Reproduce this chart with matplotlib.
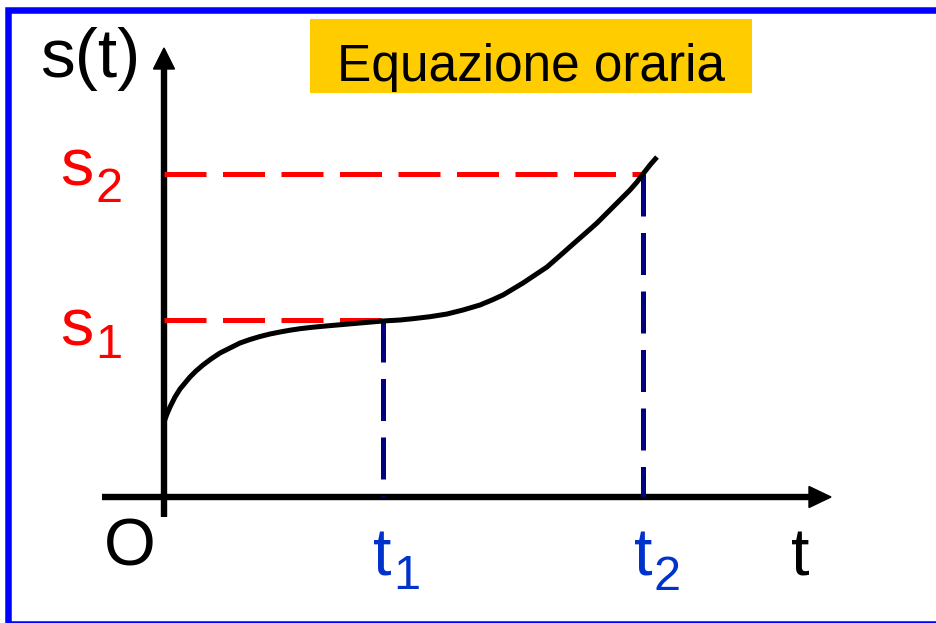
import numpy as np
import matplotlib.pyplot as plt
from matplotlib.patches import Polygon, Rectangle

plt.rcParams['font.family'] = ['Liberation Sans', 'DejaVu Sans']

# curve s(t) (units: px from the origin O)
t_curve = [0, 3, 6, 11, 16, 21, 26, 32, 39, 47, 56, 66, 76, 86, 96, 106, 116, 126,
           136, 149, 163, 179, 196, 219, 236, 249, 266, 283, 299, 316, 328, 339, 349,
           359, 371, 383, 391, 399, 408, 416, 424, 433, 441, 449, 458, 466, 473, 479,
           486, 493]
s_curve = [75, 83, 90, 100, 108, 114, 120, 126, 132, 138, 144, 149, 154, 157.5, 160.5,
           163, 165, 166.8, 168.3, 169.8, 171.1, 172.5, 174, 176, 177, 178.3, 180.3, 183,
           187, 192, 197, 202, 208, 214, 222, 230, 237, 244, 252, 259, 266, 274, 282,
           290, 299, 307, 315, 323, 332, 340]

# marked instants and positions
t_marks = [219, 479]
s_marks = [177, 323]
title = 'Equazione oraria'

RED = '#FF0000'
NAVY = '#000080'
TBLUE = '#0033CC'
GOLD = '#FFCC00'

fig = plt.figure(figsize=(9.37, 6.23), dpi=100)
ax = fig.add_axes([0, 0, 1, 1])
ax.set_xlim(-164, 773)
ax.set_ylim(-126, 497)
ax.axis('off')

# frame of the slide
ax.add_patch(Rectangle((-156, -127), 1000, 614.5, fill=False, edgecolor='#0000FF',
                       linewidth=4.7, clip_on=True))

# title box
ax.add_patch(Rectangle((146, 404), 442, 74, facecolor=GOLD, edgecolor='none'))
ax.text(367, 416, title, fontsize=37, ha='center', va='baseline', color='black')

# axes with arrow heads
ax.plot([-62, 645], [0, 0], color='black', lw=4.6, solid_capstyle='butt')
ax.plot([0, 0], [-20, 428], color='black', lw=4.6, solid_capstyle='butt')
ax.add_patch(Polygon([[645, -10.5], [667, 0], [645, 10.5]], closed=True, color='black'))
ax.add_patch(Polygon([[-10.5, 428], [0, 449], [10.5, 428]], closed=True, color='black'))

# dashed guides
dash = (0, (8.4, 3.3))
for tm, sm in zip(t_marks, s_marks):
    ax.plot([0, tm], [sm, sm], color=RED, lw=3.6, linestyle=dash)
    ax.plot([tm, tm], [sm, 0], color=NAVY, lw=3.6, linestyle=dash)

# the motion law
ax.plot(t_curve, s_curve, color='black', lw=3.6, solid_joinstyle='round',
        solid_capstyle='butt')

# labels
ax.text(-124, 420, 's(t)', fontsize=50, ha='left', va='baseline')
ax.text(-34, -69, 'O', fontsize=48, ha='center', va='baseline')
ax.text(636, -78, 't', fontsize=48, ha='center', va='baseline')

t1, t2 = t_marks
s1, s2 = s_marks
ax.text(t1 - 10, -78, 't', fontsize=48, ha='left', va='baseline', color=TBLUE)
ax.text(t1 + 10, -92, '1', fontsize=35, ha='left', va='baseline', color=TBLUE)
ax.text(t2 - 9, -78, 't', fontsize=48, ha='left', va='baseline', color=TBLUE)
ax.text(t2 + 10, -93, '2', fontsize=35, ha='left', va='baseline', color=TBLUE)

ax.text(-104, s1 - 25, 's', fontsize=48, ha='left', va='baseline', color=RED)
ax.text(-69, s1 - 38, '1', fontsize=35, ha='left', va='baseline', color=RED)
ax.text(-104, s2 - 11, 's', fontsize=48, ha='left', va='baseline', color=RED)
ax.text(-69, s2 - 28, '2', fontsize=35, ha='left', va='baseline', color=RED)

fig.savefig('out.png', dpi=100)
